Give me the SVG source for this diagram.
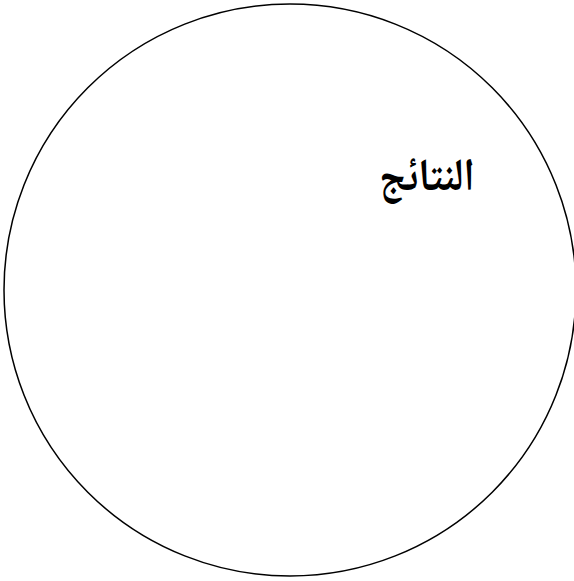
<svg xmlns="http://www.w3.org/2000/svg" width="574" height="581" viewBox="0 0 574 581">
<style>
.c{fill:#fff;stroke:#000;stroke-width:1.5}
.t{font-family:"Noto Naskh Arabic","Noto Serif","DejaVu Serif",serif;font-weight:bold;font-size:46px;fill:#000}
</style>
<rect width="574" height="581" fill="#fff"/>
<g id="circle">
<circle class="c" cx="290" cy="290" r="286"/>
<text class="t" transform="translate(427,190) scale(0.85,1)" x="0" y="0" text-anchor="middle" direction="rtl">النتائج</text>
</g>
<g id="connectors"/>
</svg>
